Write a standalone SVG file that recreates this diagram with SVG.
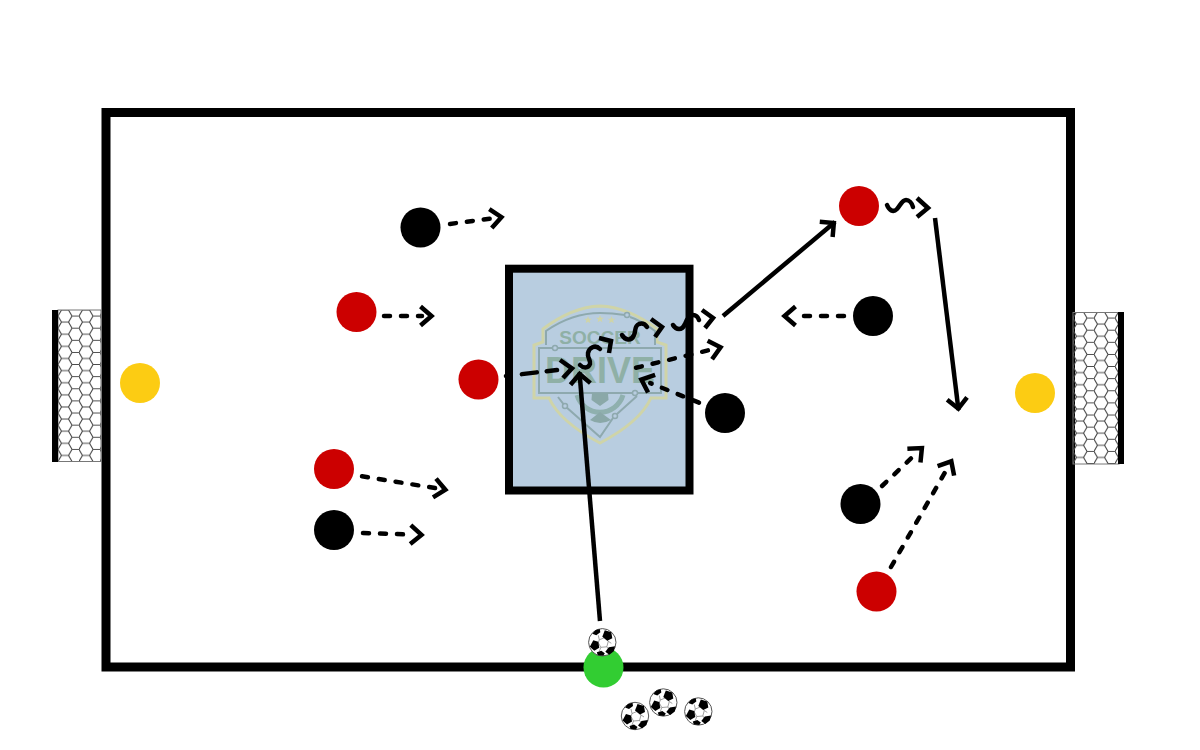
<svg xmlns="http://www.w3.org/2000/svg" width="1200" height="750" viewBox="0 0 1200 750">
<style>
.l{fill:none;stroke:#000;stroke-width:4.500}
.d{stroke-dasharray:6 11;stroke-linecap:round}
.s{fill:none;stroke:#000;stroke-width:4.500;stroke-linecap:round}
.h{fill:none;stroke:#000;stroke-width:4.500}
.red{fill:#cc0000}.blk{fill:#000}.yel{fill:#fccc13}.grn{fill:#32cd32}
.lt{font-family:"Liberation Sans",Arial,sans-serif;font-weight:700;text-anchor:middle;fill:#8fb0a6}
.lo{fill:none;stroke:#8ea9ae;stroke-width:2}
.lc{fill:#b8cde0;stroke:#8ea9ae;stroke-width:1.500}
.ly{fill:none;stroke:#cfd4a8;stroke-width:3}
</style>
<defs>
<marker id="ad" markerUnits="userSpaceOnUse" markerWidth="30" markerHeight="30" refX="5" refY="15" orient="auto" overflow="visible">
<path d="M3.500 5.500 L14.500 15 L3.500 24.500" fill="none" stroke="#000" stroke-width="4.500"/>
</marker>
<marker id="as" markerUnits="userSpaceOnUse" markerWidth="30" markerHeight="30" refX="15" refY="15" orient="auto" overflow="visible">
<path d="M3.500 5 L13.500 15 L3.500 25" fill="none" stroke="#000" stroke-width="4.500"/>
</marker>
<pattern id="netL" patternUnits="userSpaceOnUse" width="21" height="12.120" x="58" y="310">
<path d="M3.500 0 L10.500 0 L14 6.060 L10.500 12.120 L3.500 12.120 L0 6.060 Z M14 6.060 L21 6.060" fill="none" stroke="#444" stroke-width="1.100"/>
</pattern>
<pattern id="netR" patternUnits="userSpaceOnUse" width="21" height="12.120" x="1073" y="312">
<path d="M3.500 0 L10.500 0 L14 6.060 L10.500 12.120 L3.500 12.120 L0 6.060 Z M14 6.060 L21 6.060" fill="none" stroke="#444" stroke-width="1.100"/>
</pattern>
<g id="ball">
<circle r="13.700" fill="#fff" stroke="#555" stroke-width="1"/>
<path d="M-3 -2.500 L2 -4.500 L6 -1 L4.500 4.500 L-1.500 5 L-4 0.500 Z M2 -4.500 L3 -7 M6 -1 L9 1 M4.500 4.500 L6 6.500 M-1.500 5 L-3 9 M-4 0.500 L-6 0 M-3 -2.500 L-4 -7" fill="#fff" stroke="#777" stroke-width=".7"/>
<path d="M2.500 -12 L9 -10 L10 -4 L5 -1.500 L0 -5.500 Z" fill="#000"/>
<path d="M-9 -2 L-4 -0.500 L-3 5.500 L-8 8.500 L-12.500 4.500 Z" fill="#000"/>
<path d="M6.500 5 L12.800 4 L11.500 9 L7 12.500 L3 9.500 Z" fill="#000"/>
<path d="M-7 -12 L-2.500 -13.300 L-2 -10 L-6 -7 L-10 -8.500 Z" fill="#000"/>
<path d="M-5.500 10 L-1 8.500 L2.500 11 L1 13.500 L-4.500 13 Z" fill="#000"/>
</g>
<path id="star" d="M0 -4 L1 -1.300 L3.900 -1.200 L1.600 .5 L2.400 3.300 L0 1.700 L-2.400 3.300 L-1.600 .5 L-3.900 -1.200 L-1 -1.300 Z"/>
</defs>

<g id="field"><rect x="106" y="112.500" width="964.500" height="554.500" fill="#fff" stroke="#000" stroke-width="9"/></g>

<g id="goal-left">
<rect x="58" y="310" width="43" height="151.500" fill="url(#netL)" stroke="#777" stroke-width="1"/>
<rect x="52" y="310" width="6" height="152" fill="#000"/>
</g>
<g id="goal-right">
<rect x="1073" y="312.500" width="46" height="151.500" fill="url(#netR)" stroke="#777" stroke-width="1"/>
<rect x="1118" y="312" width="6" height="152" fill="#000"/>
</g>

<g id="square">
<rect x="509" y="268.700" width="180.500" height="221.800" fill="#b8cde0" stroke="#000" stroke-width="8"/>
</g>

<g id="logo">
<path d="M600 306 Q628 307 657 329 L657 342 L666 345 L666 398 L651 398 Q640 422 600 443 Q560 422 549 398 L534 398 L534 345 L543 342 L543 329 Q572 307 600 306 Z" class="ly"/>
<path d="M546 345 L546 331 Q572 313 600 313 Q612 313 625 315 M630 317 Q642 321 655 331 L655 345 M558 397 L565 406 L600 437 L613 418 M617 414 L637 396" class="lo"/>
<rect x="539" y="348" width="122" height="45" class="lo"/>
<circle cx="627" cy="315" r="2.500" class="lc"/>
<circle cx="555" cy="348" r="2.500" class="lc"/>
<circle cx="635" cy="393" r="2.500" class="lc"/>
<circle cx="565" cy="406" r="2.500" class="lc"/>
<circle cx="615" cy="416" r="2.500" class="lc"/>
<path d="M577 395 A24 24 0 0 0 623 395" fill="none" stroke="#8fb0ae" stroke-width="5"/>
<path d="M592 393 L608 393 L608.500 400 L600 406 L591.500 400 Z" fill="#8aa8a8"/>
<path d="M590 420 L600 412 L611 420 Q600 426 590 420 Z" fill="#8aa8a8"/>
<text x="600" y="343.500" font-size="19" class="lt">SOCCER</text>
<text x="600" y="383" font-size="36" class="lt" textLength="110" lengthAdjust="spacing">DRIVE</text>
<g fill="#cfd4a8"><use href="#star" x="588" y="320"/><use href="#star" x="600" y="319"/><use href="#star" x="611.500" y="320"/></g>
</g>

<g id="connectors">
<path class="l d" marker-end="url(#ad)" d="M450 223.900 L492 218.400"/>
<path class="l d" marker-end="url(#ad)" d="M384 316 L422 316"/>
<path class="l d" style="stroke-dasharray:1 15 15 10 11 100" d="M506 376 L557 370"/>
<path class="h" d="M560 360 L572 368.300 L563 378"/>
<path class="l d" marker-end="url(#ad)" d="M362 476.300 L436 488.200"/>
<path class="l d" marker-end="url(#ad)" d="M363 533 L412 534.600"/>
<path class="l" marker-end="url(#as)" d="M600 621 L579.500 372.500"/>
<path class="l d" marker-end="url(#ad)" d="M699 402.600 L650.200 383.100"/>
<path class="l d" marker-end="url(#ad)" d="M636 367.800 L711.300 349.600"/>
<path class="l d" marker-end="url(#ad)" d="M844 316 L794 316"/>
<path class="l" marker-end="url(#as)" d="M723 316 L835 222"/>
<path class="l" marker-end="url(#as)" d="M935 218 L958.500 410"/>
<path class="l d" marker-end="url(#ad)" d="M882 486 L915 454.600"/>
<path class="l d" marker-end="url(#ad)" d="M891 567 L946.600 469.600"/>
<path class="s" d="M580 365 C583 368 588 369 590 364 C591 360 587 358 588 353 C589 348 595 344 600 349"/>
<path class="h" d="M599 338 L611 341 L609 353"/>
<path class="s" d="M622 335 C625 340 631 342 634 335 C636 331 634 326 639 324 C642 323 645 324 647 327"/>
<path class="h" d="M651 319 L662 327 L655 337"/>
<path class="s" d="M673 325 C676 330 682 331 685 324 C687 319 690 315 693 315 C696 315 698 317 699 320"/>
<path class="h" d="M702 310 L713 318 L705 328"/>
<path class="s" d="M887 205 C889 210 893 213 897 209 C900 206 902 200 906 200 C909 200 912 203 913 207"/>
<path class="h" d="M917 198 L928 208 L917 217"/>
</g>

<g id="p-black-1"><circle class="blk" cx="420.500" cy="227.500" r="20"/></g>
<g id="p-red-1"><circle class="red" cx="356.500" cy="312" r="20"/></g>
<g id="p-red-2"><circle class="red" cx="478.500" cy="379.500" r="20"/></g>
<g id="p-red-3"><circle class="red" cx="334" cy="469" r="20"/></g>
<g id="p-black-2"><circle class="blk" cx="334" cy="530" r="20"/></g>
<g id="p-red-4"><circle class="red" cx="859" cy="206" r="20"/></g>
<g id="p-black-3"><circle class="blk" cx="873" cy="316" r="20"/></g>
<g id="p-black-4"><circle class="blk" cx="725" cy="413" r="20"/></g>
<g id="p-black-5"><circle class="blk" cx="860.500" cy="504" r="20"/></g>
<g id="p-red-5"><circle class="red" cx="876.500" cy="591.500" r="20"/></g>
<g id="keeper-left"><circle class="yel" cx="140" cy="383" r="20"/></g>
<g id="keeper-right"><circle class="yel" cx="1035" cy="393" r="20"/></g>
<g id="coach"><circle class="grn" cx="603.500" cy="667.500" r="20"/></g>
<g id="balls">
<use href="#ball" x="602.300" y="642.300"/>
<use href="#ball" x="635" y="716"/>
<use href="#ball" x="663.300" y="702.500"/>
<use href="#ball" x="698.300" y="711.500"/>
</g>
</svg>
